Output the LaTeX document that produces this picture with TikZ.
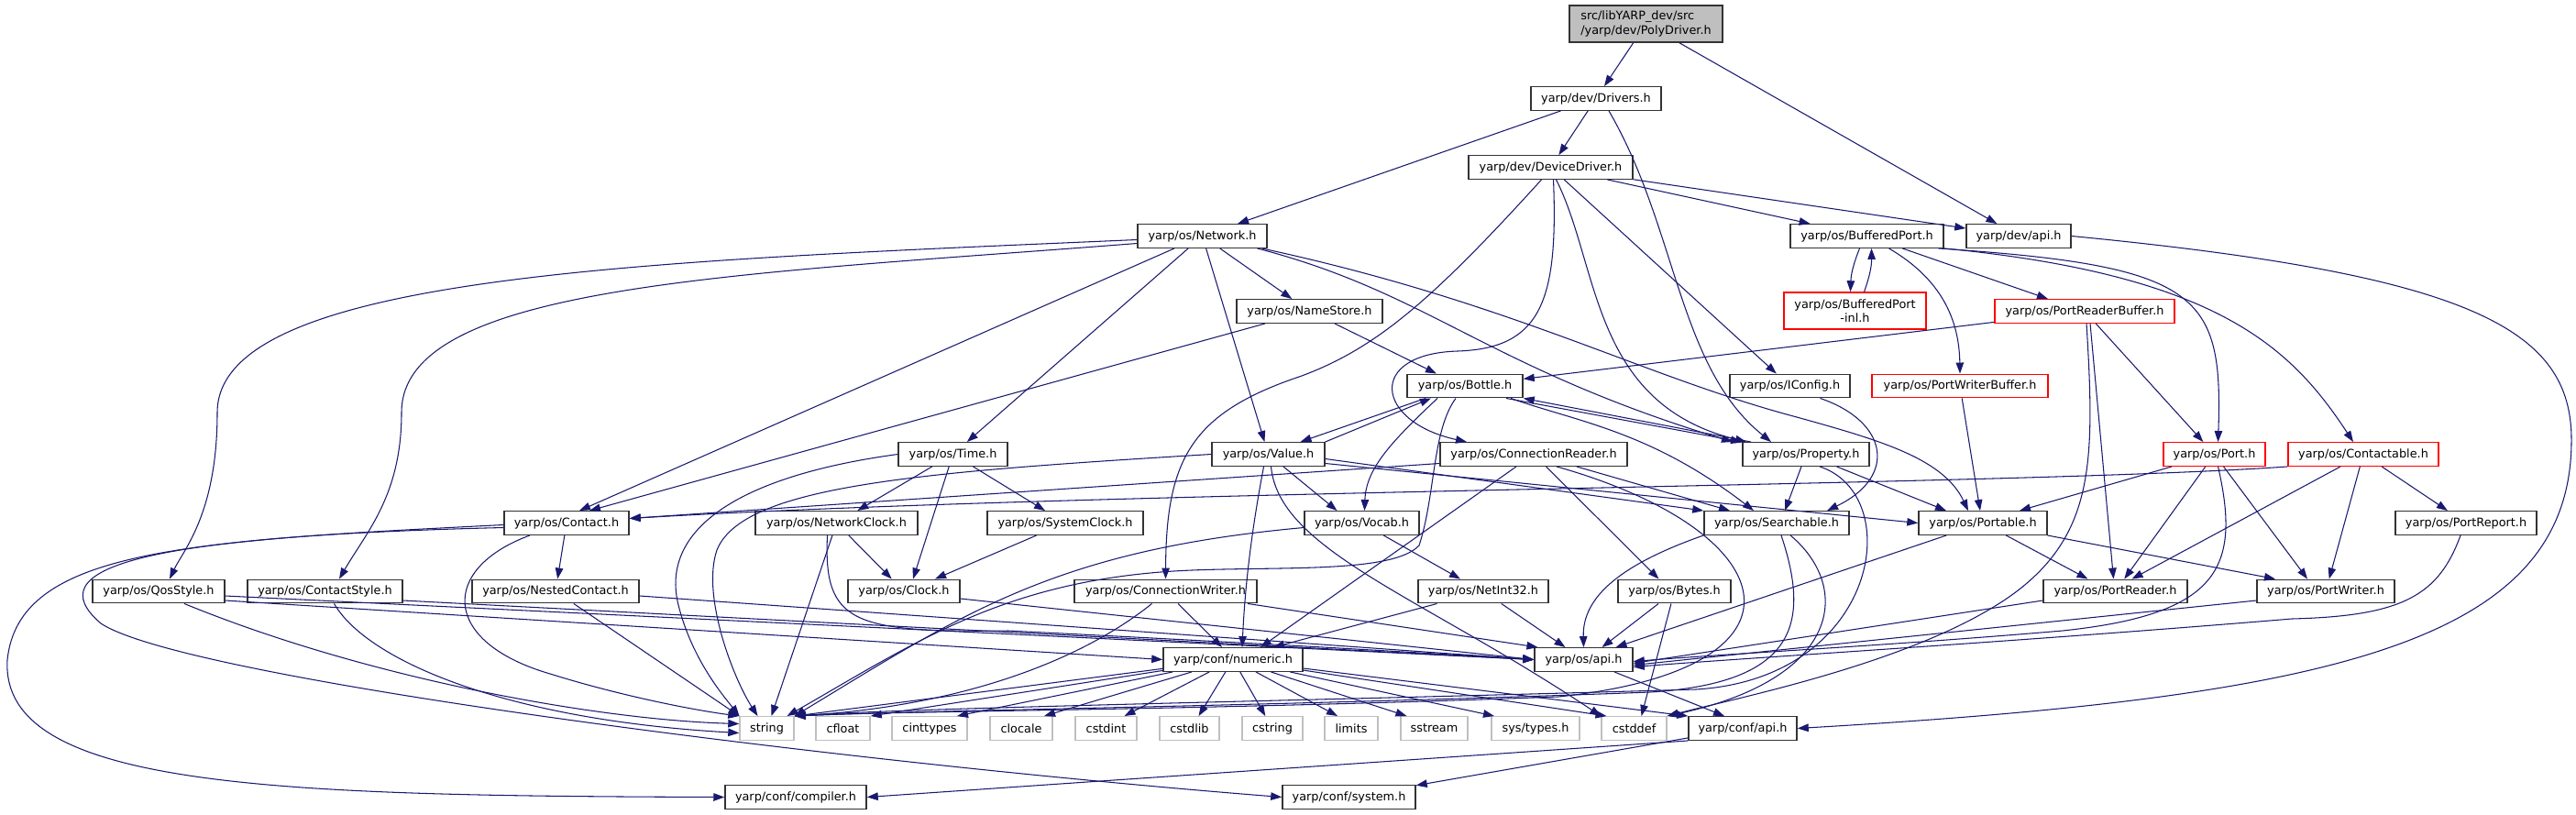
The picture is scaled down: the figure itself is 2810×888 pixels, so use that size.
\documentclass[tikz,border=0pt]{standalone}
\usepackage{fontspec}
\setmainfont{DejaVu Sans}
\usepackage{xcolor}
\usepackage{tikz}
\usetikzlibrary{arrows.meta}
\definecolor{edgeblue}{HTML}{191970}
\definecolor{leafgrey}{HTML}{BFBFBF}

\begin{document}
\begin{tikzpicture}[
    x=0.01cm, y=-0.01cm,
    hdr/.style={draw=black!80, line width=0.4pt, fill=white, inner sep=0pt,
                minimum height=0.255cm, font=\fontsize{3.65}{4.4}\selectfont},
    redhdr/.style={hdr, draw=red},
    stdhdr/.style={hdr, draw=leafgrey},
    roothdr/.style={hdr, fill=leafgrey, minimum height=0.40cm},
    incl/.style={-{Triangle[length=0.12cm,width=0.085cm]}, color=edgeblue,
                 line width=0.3pt}
]
\fill[white] (0,0) rectangle (2810,888);
\useasboundingbox (0,0) rectangle (2810,888);

\node[roothdr, minimum width=1.67cm, align=left] (poly) at (1795.5,26) {src/libYARP\_dev/src\\/yarp/dev/PolyDriver.h};
\node[hdr, minimum width=1.42cm] (drivers)  at (1741,107.5)  {yarp/dev/Drivers.h};
\node[hdr, minimum width=1.79cm] (devdrv)   at (1691.5,182.5) {yarp/dev/DeviceDriver.h};
\node[hdr, minimum width=1.41cm] (network)  at (1311.5,257.5) {yarp/os/Network.h};
\node[hdr, minimum width=1.67cm] (bufport)  at (2036.5,257.5) {yarp/os/BufferedPort.h};
\node[hdr, minimum width=1.14cm] (devapi)   at (2202,257.5)   {yarp/dev/api.h};
\node[hdr, minimum width=1.59cm] (namestore) at (1428.5,339.5) {yarp/os/NameStore.h};
\node[redhdr, minimum width=1.55cm, minimum height=0.40cm, align=center] (bufinl) at (2023.5,339) {yarp/os/BufferedPort\\-inl.h};
\node[redhdr, minimum width=1.96cm] (prbuf)  at (2274,339.5)   {yarp/os/PortReaderBuffer.h};
\node[hdr, minimum width=1.26cm] (bottle)   at (1598,421)     {yarp/os/Bottle.h};
\node[hdr, minimum width=1.31cm] (iconfig)  at (1952.5,421)   {yarp/os/IConfig.h};
\node[redhdr, minimum width=1.92cm] (pwbuf)  at (2138,421)     {yarp/os/PortWriterBuffer.h};
\node[hdr, minimum width=1.19cm] (time)     at (1039.5,495.5) {yarp/os/Time.h};
\node[hdr, minimum width=1.23cm] (value)    at (1383.5,495.5) {yarp/os/Value.h};
\node[hdr, minimum width=2.04cm] (connreader) at (1673,495.5) {yarp/os/ConnectionReader.h};
\node[hdr, minimum width=1.38cm] (property) at (1970,495.5)   {yarp/os/Property.h};
\node[redhdr, minimum width=1.11cm] (port)   at (2415.5,495.5) {yarp/os/Port.h};
\node[redhdr, minimum width=1.64cm] (contactable) at (2578,495.5) {yarp/os/Contactable.h};
\node[hdr, minimum width=1.36cm] (contact)  at (618,570.5)    {yarp/os/Contact.h};
\node[hdr, minimum width=1.77cm] (netclock) at (912.5,570.5)  {yarp/os/NetworkClock.h};
\node[hdr, minimum width=1.70cm] (sysclock) at (1162,570.5)   {yarp/os/SystemClock.h};
\node[hdr, minimum width=1.25cm] (vocab)    at (1485.5,570.5) {yarp/os/Vocab.h};
\node[hdr, minimum width=1.58cm] (searchable) at (1938,570.5) {yarp/os/Searchable.h};
\node[hdr, minimum width=1.40cm] (portable) at (2163,570.5)   {yarp/os/Portable.h};
\node[hdr, minimum width=1.54cm] (portreport) at (2690,570.5) {yarp/os/PortReport.h};
\node[hdr, minimum width=1.44cm] (qosstyle) at (173,645)      {yarp/os/QosStyle.h};
\node[hdr, minimum width=1.69cm] (contactstyle) at (354.5,645) {yarp/os/ContactStyle.h};
\node[hdr, minimum width=1.82cm] (nested)   at (606,645)      {yarp/os/NestedContact.h};
\node[hdr, minimum width=1.22cm] (clock)    at (986,645)      {yarp/os/Clock.h};
\node[hdr, minimum width=1.99cm] (connwriter) at (1271.5,645) {yarp/os/ConnectionWriter.h};
\node[hdr, minimum width=1.42cm] (netint)   at (1618,645)     {yarp/os/NetInt32.h};
\node[hdr, minimum width=1.23cm] (bytes)    at (1826.5,645)   {yarp/os/Bytes.h};
\node[hdr, minimum width=1.57cm] (portreader) at (2307.5,645) {yarp/os/PortReader.h};
\node[hdr, minimum width=1.50cm] (portwriter) at (2537,645)   {yarp/os/PortWriter.h};
\node[hdr, minimum width=1.52cm] (numeric)  at (1345,719.5)   {yarp/conf/numeric.h};
\node[hdr, minimum width=1.07cm] (osapi)    at (1727.5,719.5) {yarp/os/api.h};
\node[stdhdr, minimum width=0.59cm] (string)    at (836.5,794.5) {string};
\node[stdhdr, minimum width=0.59cm] (cfloat)    at (919.5,794.5) {cfloat};
\node[stdhdr, minimum width=0.82cm] (cinttypes) at (1014,794.5)  {cinttypes};
\node[stdhdr, minimum width=0.68cm] (clocale)   at (1114,794.5)  {clocale};
\node[stdhdr, minimum width=0.67cm] (cstdint)   at (1206.5,794.5) {cstdint};
\node[stdhdr, minimum width=0.65cm] (cstdlib)   at (1297.5,794.5) {cstdlib};
\node[stdhdr, minimum width=0.66cm] (cstring)   at (1388,794.5)  {cstring};
\node[stdhdr, minimum width=0.58cm] (limits)    at (1474,794.5)  {limits};
\node[stdhdr, minimum width=0.73cm] (sstream)   at (1564.5,794.5) {sstream};
\node[stdhdr, minimum width=0.96cm] (systypes)  at (1675,794.5)  {sys/types.h};
\node[stdhdr, minimum width=0.71cm] (cstddef)   at (1782.5,794.5) {cstddef};
\node[hdr, minimum width=1.18cm] (confapi)  at (1901,794.5)   {yarp/conf/api.h};
\node[hdr, minimum width=1.54cm] (compiler) at (868,869.5)    {yarp/conf/compiler.h};
\node[hdr, minimum width=1.45cm] (system)   at (1471.5,869.5) {yarp/conf/system.h};

\draw[incl] (poly) -- (drivers);
\draw[incl] (poly) -- (devapi);
\draw[incl] (drivers) -- (network);
\draw[incl] (drivers) -- (devdrv);
\draw[incl] ([xshift=.14cm]drivers.south) .. controls (1830,250) and (1830,400) .. ([xshift=-.38cm]property.north);

\draw[incl] (devdrv) -- (devapi);
\draw[incl] (devdrv) -- (bufport);
\draw[incl] (devdrv) -- (iconfig);
\draw[incl] ([xshift=-.1cm]devdrv.south) .. controls (1560,330) and (1500,380) .. (1420,410) .. controls (1300,450) and (1272,500) .. (connwriter.north);
\draw[incl] ([xshift=.03cm]devdrv.south) .. controls (1700,330) and (1680,380) .. (1590,383) .. controls (1490,386) and (1500,460) .. ([xshift=-.73cm]connreader.north);
\draw[incl] ([xshift=.06cm]devdrv.south) .. controls (1745,290) and (1735,440) .. ([xshift=-.65cm]property.north);

\draw[incl] ([yshift=-.04cm]network.west) .. controls (700,285) and (237,300) .. (237,450) .. controls (237,560) and (200,600) .. ([xshift=.12cm]qosstyle.north);
\draw[incl] ([yshift=-.08cm]network.west) .. controls (800,300) and (438,310) .. (438,450) .. controls (438,540) and (400,580) .. ([xshift=.155cm]contactstyle.north);
\draw[incl] (network) -- ([xshift=.14cm]contact.north);
\draw[incl] (network) -- (time);
\draw[incl] (network) -- (value);
\draw[incl] (network) -- (namestore);
\draw[incl] ([xshift=.6cm]network.south) .. controls (1560,320) and (1620,400) .. ([xshift=-.8cm]property.north);
\draw[incl] ([xshift=.65cm]network.south) .. controls (1650,330) and (1790,410) .. (1960,455) .. controls (2050,480) and (2120,500) .. ([xshift=-.16cm]portable.north);

\draw[incl] (namestore) -- ([xshift=.25cm]contact.north);
\draw[incl] (namestore) -- ([xshift=-.31cm]bottle.north);

\draw[incl] ([xshift=-.08cm]bufport.south) to[bend right=10] ([xshift=-.05cm]bufinl.north);
\draw[incl] ([xshift=.1cm]bufinl.north) to[bend right=10] ([xshift=.05cm]bufport.south);
\draw[incl] ([xshift=.24cm]bufport.south) .. controls (2110,300) and (2137,340) .. (pwbuf.north);
\draw[incl] (bufport) -- ([xshift=-.4cm]prbuf.north);
\draw[incl] ([xshift=.78cm]bufport.south) .. controls (2400,290) and (2425,320) .. ([xshift=.04cm]port.north);
\draw[incl] (bufport.south east) .. controls (2420,300) and (2500,380) .. ([xshift=-.11cm]contactable.north);

\draw[incl] (prbuf) -- (bottle);
\draw[incl] (prbuf) -- (port);
\draw[incl] ([xshift=.06cm]prbuf.south) -- ([xshift=-.02cm]portreader.north);
\draw[incl] ([xshift=.02cm]prbuf.south) .. controls (2285,500) and (2285,580) .. (2200,645) .. controls (2100,720) and (1900,760) .. (cstddef.north east);
\draw[incl] (pwbuf) -- ([xshift=-.03cm]portable.north);
\draw[incl] ([xshift=.33cm]iconfig.south) .. controls (2060,460) and (2070,520) .. ([xshift=.55cm]searchable.north);

\draw[incl] ([xshift=-.43cm]bottle.south) -- ([xshift=.35cm]value.north);
\draw[incl] ([xshift=.62cm]value.north) -- ([xshift=-.37cm]bottle.south);
\draw[incl] ([xshift=-.3cm]bottle.south) .. controls (1520,480) and (1490,510) .. ([xshift=.03cm]vocab.north);
\draw[incl] ([xshift=-.1cm]bottle.south) .. controls (1562,470) and (1566,540) .. (1548,595) .. controls (1520,625) and (1400,618) .. (1300,622) .. controls (1100,630) and (1000,700) .. ([xshift=.22cm]string.north);
\draw[incl] ([xshift=.45cm]bottle.south) -- ([xshift=-.7cm]property.north);
\draw[incl] ([xshift=-.6cm]property.north) -- (bottle.south east);
\draw[incl] ([xshift=.5cm]bottle.south) .. controls (1720,460) and (1800,470) .. ([xshift=-.25cm]searchable.north);

\draw[incl] (value) -- ([xshift=-.27cm]vocab.north);
\draw[incl] ([xshift=-.05cm]value.south) .. controls (1365,580) and (1358,640) .. ([xshift=.1cm]numeric.north);
\draw[incl] ([xshift=.03cm]value.south) .. controls (1395,600) and (1550,650) .. (cstddef.north west);
\draw[incl] (value.west) .. controls (1000,515) and (810,530) .. (782,600) .. controls (765,650) and (800,740) .. ([xshift=-.1cm]string.north);
\draw[incl] ([yshift=-.05cm]value.east) -- (searchable.north west);
\draw[incl] ([yshift=-.1cm]value.east) -- (portable.west);

\draw[incl] ([yshift=-.1cm]connreader.west) -- ([yshift=.05cm]contact.east);
\draw[incl] (connreader) -- ([xshift=-.51cm]searchable.north);
\draw[incl] (connreader) -- ([xshift=-.17cm]bytes.north);
\draw[incl] (connreader) -- ([xshift=.3cm]numeric.north);
\draw[incl] ([xshift=.25cm]connreader.south) .. controls (1950,580) and (1990,730) .. (1700,760) .. controls (1300,775) and (1000,775) .. (string.north east);

\draw[incl] (time) -- (netclock);
\draw[incl] (time) -- (sysclock);
\draw[incl] (time) -- ([xshift=.1cm]clock.north);
\draw[incl] (time.west) .. controls (800,520) and (720,580) .. (740,660) .. controls (755,720) and (790,760) .. ([xshift=-.3cm]string.north);

\draw[incl] (netclock) -- (clock);
\draw[incl] (netclock) -- ([xshift=.05cm]string.north);
\draw[incl] ([xshift=-.1cm]netclock.south) .. controls (898,680) and (930,690) .. (1100,688) .. controls (1400,703) and (1550,712) .. (osapi.west);
\draw[incl] ([yshift=-.08cm]clock.east) -- (osapi.west);
\draw[incl] (sysclock) -- ([xshift=.34cm]clock.north);

\draw[incl] (contact) -- (nested);
\draw[incl] ([xshift=-.4cm]contact.south) .. controls (480,620) and (480,700) .. (600,735) .. controls (680,760) and (760,775) .. (string.north west);
\draw[incl] ([yshift=-.02cm]contact.west) .. controls (200,590) and (20,600) .. (8,720) .. controls (0,860) and (300,868) .. (compiler.west);
\draw[incl] ([yshift=-.05cm]contact.west) .. controls (150,585) and (40,620) .. (110,680) .. controls (200,740) and (900,830) .. (system.west);

\draw[incl] (nested) -- ([xshift=-.3cm]string.north);
\draw[incl] ([yshift=-.05cm]nested.east) -- (osapi.west);
\draw[incl] ([yshift=-.05cm]qosstyle.east) -- (osapi.west);
\draw[incl] ([yshift=-.1cm]qosstyle.east) -- (numeric.west);
\draw[incl] ([xshift=.28cm]qosstyle.south) .. controls (400,740) and (650,785) .. ([yshift=.05cm]string.west);
\draw[incl] ([yshift=-.1cm]contactstyle.east) -- (osapi.west);
\draw[incl] ([xshift=.1cm]contactstyle.south) .. controls (400,720) and (550,785) .. ([yshift=-.05cm]string.west);

\draw[incl] (connwriter) -- ([xshift=-.12cm]numeric.north);
\draw[incl] (connwriter) -- ([xshift=-.5cm]osapi.north);
\draw[incl] ([xshift=-.15cm]connwriter.south) .. controls (1180,720) and (1050,770) .. (string.north east);

\draw[incl] (vocab) -- ([xshift=-.25cm]netint.north);
\draw[incl] ([yshift=-.05cm]vocab.west) .. controls (1150,600) and (1050,670) .. (string.north east);
\draw[incl] (netint) -- ([xshift=.44cm]numeric.north);
\draw[incl] (netint) -- ([xshift=-.2cm]osapi.north);
\draw[incl] (bytes) -- ([xshift=.2cm]osapi.north);
\draw[incl] (bytes) -- ([xshift=.08cm]cstddef.north);

\draw[incl] (searchable.south west) .. controls (1770,615) and (1726,650) .. (osapi.north);
\draw[incl] ([xshift=.05cm]searchable.south) .. controls (1975,680) and (1960,745) .. (1800,755) .. controls (1400,770) and (1000,775) .. (string.north east);
\draw[incl] ([xshift=.15cm]searchable.south) .. controls (2020,640) and (2010,740) .. (cstddef.north east);

\draw[incl] (property) -- ([xshift=.09cm]searchable.north);
\draw[incl] (property) -- ([xshift=-.4cm]portable.north);
\draw[incl] ([xshift=.15cm]property.south) .. controls (2080,540) and (2050,740) .. (1850,752) .. controls (1400,765) and (1000,772) .. (string.north east);

\draw[incl] (portable) -- ([xshift=-.3cm]portreader.north);
\draw[incl] (portable) -- ([xshift=-.55cm]portwriter.north);
\draw[incl] (portable) -- ([xshift=.35cm]osapi.north);

\draw[incl] (port) -- ([xshift=.4cm]portable.north);
\draw[incl] (port) -- (portreader);
\draw[incl] (port) -- ([xshift=-.2cm]portwriter.north);
\draw[incl] ([xshift=.04cm]port.south) .. controls (2445,620) and (2420,670) .. (2250,688) .. controls (2050,705) and (1900,712) .. ([yshift=-.02cm]osapi.east);

\draw[incl] (contactable.south west) .. controls (2200,530) and (1200,535) .. ([yshift=.05cm]contact.east);
\draw[incl] (contactable) -- ([xshift=.18cm]portreader.north);
\draw[incl] (contactable) -- (portwriter);
\draw[incl] (contactable) -- (portreport);

\draw[incl] ([yshift=-.1cm]portreader.west) -- ([yshift=-.04cm]osapi.east);
\draw[incl] ([yshift=-.1cm]portwriter.west) -- ([yshift=-.06cm]osapi.east);
\draw[incl] ([xshift=-.06cm]portreport.south) .. controls (2660,650) and (2620,672) .. (2500,675) .. controls (2200,700) and (1900,718) .. ([yshift=-.08cm]osapi.east);

\draw[incl] (numeric) -- (string.north east);
\draw[incl] (numeric) -- (cfloat.north east);
\draw[incl] (numeric) -- ([xshift=.3cm]cinttypes.north);
\draw[incl] (numeric) -- ([xshift=.25cm]clocale.north);
\draw[incl] (numeric) -- ([xshift=.2cm]cstdint.north);
\draw[incl] (numeric) -- ([xshift=.1cm]cstdlib.north);
\draw[incl] (numeric) -- (cstring);
\draw[incl] (numeric) -- ([xshift=-.15cm]limits.north);
\draw[incl] (numeric) -- ([xshift=-.3cm]sstream.north);
\draw[incl] (numeric) -- ([xshift=-.45cm]systypes.north);
\draw[incl] (numeric) -- ([xshift=-.3cm]cstddef.north);
\draw[incl] (numeric) -- (confapi.north west);

\draw[incl] (osapi) -- ([xshift=-.2cm]confapi.north);
\draw[incl] (confapi.south west) -- (compiler.east);
\draw[incl] (confapi) -- (system);
\draw[incl] (devapi.east) .. controls (2700,300) and (2805,360) .. (2805,480) .. controls (2805,700) and (2550,760) .. (confapi.east);
\end{tikzpicture}
\end{document}
